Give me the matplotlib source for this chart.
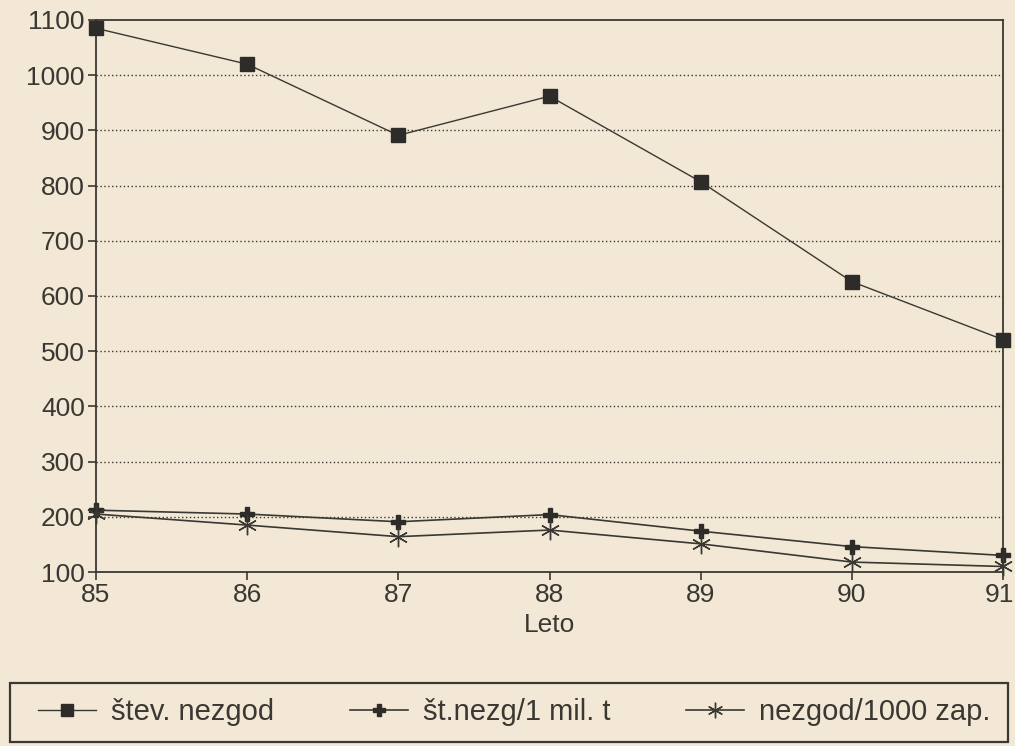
import matplotlib
matplotlib.use("Agg")
import matplotlib.pyplot as plt
from matplotlib.patches import Rectangle
from matplotlib.transforms import ScaledTranslation

plt.rcParams['font.family'] = ['Liberation Sans', 'DejaVu Sans']

# data
leta = [85, 86, 87, 88, 89, 90, 91]
stev_nezgod = [1085, 1020, 891, 962, 807, 626, 521]
nezg_mil_t = [212, 205, 191, 204, 174, 146, 130]
nezgod_zap = [205, 185, 164, 176, 151, 118, 110]
yticks = [100, 200, 300, 400, 500, 600, 700, 800, 900, 1000, 1100]

bg = '#f2e8d5'
ink = '#3a3833'

fig = plt.figure(figsize=(10.15, 7.46), dpi=100, facecolor=bg)
ax = fig.add_axes([96/1015, 1-572/746, 907/1015, 552/746], facecolor=bg)

ax.plot(leta, stev_nezgod, color=ink, lw=1.0, marker='s', ms=10,
        mfc='#2e2c29', mec='#2e2c29', label='štev. nezgod', clip_on=False, zorder=3)
ax.plot(leta, nezg_mil_t, color=ink, lw=1.2, marker='P', ms=10,
        mfc='#2e2c29', mec='#2e2c29', label='št.nezg/1 mil. t', clip_on=False, zorder=3)
ax.plot(leta, nezgod_zap, color=ink, lw=1.2, marker=(6, 2, 0), ms=14, mew=1.0,
        mec=ink, label='nezgod/1000 zap.', clip_on=False, zorder=3)

ax.set_xlim(85, 91)
ax.set_ylim(100, 1100)
ax.set_xticks(leta)
ax.set_yticks(yticks)
ax.tick_params(axis='both', colors=ink, labelsize=19, length=6, width=1.2,
               direction='out', pad=2)
for s in ax.spines.values():
    s.set_color(ink)
    s.set_linewidth(1.3)

# keep the last year label inside the picture
last = ax.get_xticklabels()[-1]
last.set_transform(last.get_transform() + ScaledTranslation(-4/100, 0, fig.dpi_scale_trans))

for v in yticks[1:-1]:
    ax.axhline(v, color=ink, lw=1.0, ls=(0, (1, 1.8)), zorder=1)

ax.set_xlabel('Leto', fontsize=19, color=ink, labelpad=4)

# legend box drawn separately, entries centred inside it
fig.add_artist(Rectangle((10/1015, 1-742/746), 998/1015, 59/746,
                         transform=fig.transFigure, fill=False,
                         edgecolor=ink, linewidth=1.6))
leg = fig.legend(loc='center', ncol=3, bbox_to_anchor=(514/1015, 1-712/746),
                 fontsize=21, frameon=False, handlelength=2.0,
                 handletextpad=0.5, columnspacing=2.6, labelcolor=ink,
                 markerscale=0.8)

fig.savefig('out.png', dpi=100, facecolor=bg)
